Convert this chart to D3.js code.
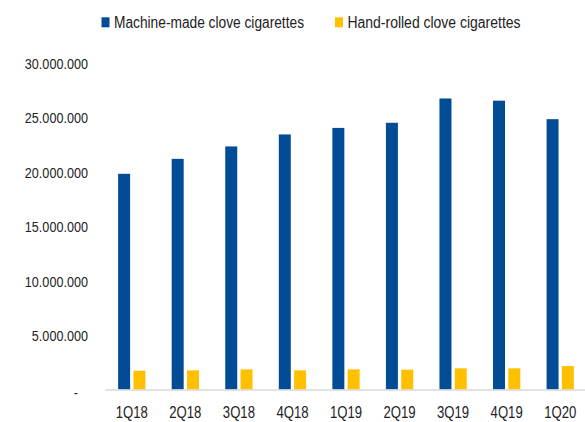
<!DOCTYPE html>
<html><head><meta charset="utf-8">
<script src="https://cdn.jsdelivr.net/npm/d3@7/dist/d3.min.js"></script>
<style>body{margin:0;background:#fff}svg{display:block}text{font-family:"Liberation Sans",Arial,sans-serif;fill:#222}</style>
</head><body><div id="c"></div>
<script>
const categories = ["1Q18","2Q18","3Q18","4Q18","1Q19","2Q19","3Q19","4Q19","1Q20"];
const machineMade = [19790000,21160000,22300000,23400000,24000000,24470000,26700000,26500000,24800000];
const handRolled = [1720000,1760000,1850000,1760000,1850000,1820000,1940000,1940000,2150000];
const seriesNames = ["Machine-made clove cigarettes","Hand-rolled clove cigarettes"];
const seriesColors = ["#014C95","#FFC000"];
const yTicks = [0,5000000,10000000,15000000,20000000,25000000,30000000];

const FONT='"Liberation Sans",Arial,sans-serif';
const SX=0.82;
const W=585,H=422;
const svg=d3.select("#c").append("svg").attr("width",W).attr("height",H);
const x=d3.scaleBand().domain(categories).range([105,587]).paddingInner(0).paddingOuter(0);
const y=d3.scaleLinear().domain([0,30000000]).range([389.5,62.5]);
const barW=12, gap=3.3;
const fmt=v=>v===0?"-":d3.format(",")(v).replace(/,/g,".");

const ya=svg.append("g").attr("transform","translate(88,0)").call(d3.axisLeft(y).tickValues(yTicks).tickSize(0).tickPadding(0).tickFormat(fmt));
ya.select(".domain").remove();
ya.selectAll("text").attr("font-size",15.4).attr("font-family",FONT).attr("fill","#222").attr("dy","0.36em").attr("x",0)
  .attr("transform",d=>d===0?`translate(-10,2) scale(${SX},1)`:`scale(${SX},1)`);

const data=categories.map((c,i)=>({c,v:[machineMade[i],handRolled[i]]}));
const g=svg.append("g");
const grp=g.selectAll("g").data(data).join("g").attr("transform",d=>`translate(${x(d.c)+x.bandwidth()/2-(barW*2+gap)/2},0)`);
grp.selectAll("rect").data(d=>d.v).join("rect")
 .attr("x",(d,i)=>i*(barW+gap)).attr("width",barW)
 .attr("y",d=>y(d)).attr("height",d=>y(0)-y(d))
 .attr("fill",(d,i)=>seriesColors[i]);

const xa=svg.append("g").attr("transform",`translate(0,${y(0)})`).call(d3.axisBottom(x).tickSize(0).tickPadding(0));
xa.select(".domain").attr("stroke","#d9d9d9").attr("stroke-width",1.5);
xa.selectAll("text").attr("font-size",16).attr("font-family",FONT).attr("fill","#222").attr("dy","0").attr("y",29)
  .attr("transform",`scale(${SX},1)`);

const leg=[{x:101.5,tx:114,w:190},{x:335,tx:347.5,w:173}];
seriesNames.forEach((n,i)=>{
  svg.append("rect").attr("x",leg[i].x).attr("y",17.3).attr("width",8).attr("height",10).attr("fill",seriesColors[i]);
  svg.append("text").attr("x",leg[i].tx).attr("y",28).attr("font-size",16).attr("textLength",leg[i].w).attr("lengthAdjust","spacingAndGlyphs").text(n);
});
</script></body></html>
